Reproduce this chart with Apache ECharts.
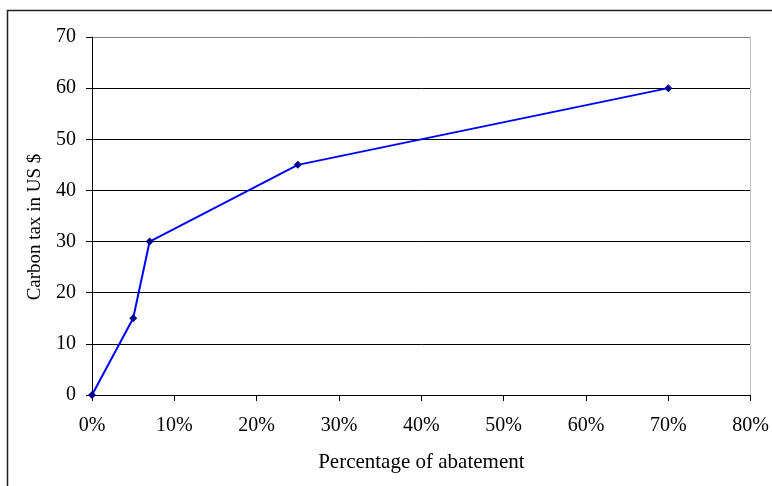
<!DOCTYPE html>
<html><head><meta charset="utf-8">
<script src="https://cdn.jsdelivr.net/npm/echarts@6/dist/echarts.min.js"></script>
<style>html,body{margin:0;padding:0;background:#fff}#c{width:772px;height:486px}</style>
</head><body><div id="c"></div>
<script>
const abatement = [0, 5, 7, 25, 70];
const carbonTax = [0, 15, 30, 45, 60];
const xTitle = 'Percentage of abatement';
const yTitle = 'Carbon tax in US $';

const font = 'Liberation Serif';
const chart = echarts.init(document.getElementById('c'));
chart.setOption({
  animation: false,
  backgroundColor: '#fff',
  graphic: [{type:'rect', shape:{x:7.5,y:10.5,width:800,height:600}, style:{fill:'none', stroke:'#222', lineWidth:1.5}, z:-1}],
  grid: {left: 92, right: 19, top: 37, bottom: 91},
  xAxis: {
    type: 'value', min: 0, max: 80, interval: 10,
    name: xTitle, nameLocation: 'middle', nameGap: 57,
    nameTextStyle: {fontFamily: font, fontSize: 21, color: '#000'},
    axisLine: {lineStyle: {color: '#000', width: 1}},
    axisTick: {show: true, length: 6, lineStyle: {color: '#000'}},
    axisLabel: {formatter: v => v + '%', fontFamily: font, fontSize: 20, color: '#000', margin: 21},
    splitLine: {show: false}
  },
  yAxis: [{
    type: 'value', min: 0, max: 70, interval: 10,
    name: yTitle, nameLocation: 'middle', nameGap: 47, nameRotate: 90,
    nameTextStyle: {fontFamily: font, fontSize: 19, color: '#000', padding: [0, 22, 0, 0]},
    axisLine: {show: true, lineStyle: {color: '#000', width: 1}},
    axisTick: {show: true, length: 6, lineStyle: {color: '#000'}},
    axisLabel: {fontFamily: font, fontSize: 20, color: '#000', margin: 16},
    splitLine: {show: true, lineStyle: {color: ['#000','#000','#000','#000','#000','#000','#000','#808080'], width: 1}}
  }, {
    type: 'value', min: 0, max: 70, interval: 10, position: 'right',
    axisLine: {show: true, lineStyle: {color: '#c0c0c0', width: 1}},
    axisTick: {show: false}, axisLabel: {show: false}, splitLine: {show: false}
  }],
  series: [{
    type: 'line',
    data: abatement.map((a, i) => [a, carbonTax[i]]),
    lineStyle: {color: '#0000ff', width: 2},
    itemStyle: {color: '#00008b'},
    symbol: 'diamond', symbolSize: 8,
    z: 5
  }]
});
</script></body></html>
